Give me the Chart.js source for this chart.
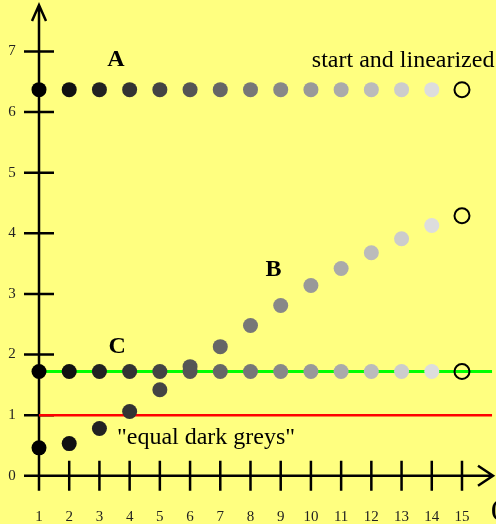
<!DOCTYPE html>
<html>
<head>
<meta charset="utf-8">
<script src="https://cdn.jsdelivr.net/npm/chart.js@4/dist/chart.umd.min.js"></script>
<style>
  html, body { margin: 0; padding: 0; background: #ffff80; overflow: hidden; }
  #wrap { width: 496px; height: 524px; }
</style>
</head>
<body>
<div id="wrap"><canvas id="chart"></canvas></div>
<script>
// data
const xValues = [1, 2, 3, 4, 5, 6, 7, 8, 9, 10, 11, 12, 13, 14, 15];
const seriesA = [6.37, 6.37, 6.37, 6.37, 6.37, 6.37, 6.37, 6.37, 6.37, 6.37, 6.37, 6.37, 6.37, 6.37, 6.37];
const seriesB = [0.46, 0.53, 0.78, 1.06, 1.42, 1.8, 2.13, 2.48, 2.81, 3.14, 3.42, 3.68, 3.91, 4.13, 4.29];
const seriesC = [1.72, 1.72, 1.72, 1.72, 1.72, 1.72, 1.72, 1.72, 1.72, 1.72, 1.72, 1.72, 1.72, 1.72, 1.72];
const greys = ["#000000", "#111111", "#222222", "#333333", "#444444", "#555555", "#666666",
  "#777777", "#888888", "#999999", "#aaaaaa", "#bbbbbb", "#cccccc", "#dddddd", "rgba(0,0,0,0)"];
const greenLevel = 1.72;
const redLevel = 1.0;
const yTicks = [0, 1, 2, 3, 4, 5, 6, 7];
const xTicks = [1, 2, 3, 4, 5, 6, 7, 8, 9, 10, 11, 12, 13, 14, 15];
const labels = [
  { text: "A", x: 3.26, y: 6.86, bold: true },
  { text: "B", x: 8.5, y: 3.39, bold: true },
  { text: "C", x: 3.3, y: 2.13, bold: true },
  { text: "start and linearized", x: 10.03, y: 6.85, bold: false },
  { text: "\"equal dark greys\"", x: 3.58, y: 0.62, bold: false },
];

const pts = (ys) => xValues.map((x, i) => ({ x: x, y: ys[i] }));
const edges = (b) => b.map((x, i) => (i === b.length - 1 ? "#000" : "rgba(0,0,0,0)"));

const axesPlugin = {
  id: "axesPlugin",
  beforeDatasetsDraw(chart) {
    const { ctx, scales } = chart;
    const sx = scales.x, sy = scales.y;
    const x0 = sx.getPixelForValue(1);
    const y0 = sy.getPixelForValue(0);
    ctx.save();
    ctx.strokeStyle = "#000";
    ctx.lineWidth = 2.5;
    ctx.beginPath();
    // y axis
    ctx.moveTo(x0, 490);
    ctx.lineTo(x0, 5);
    ctx.moveTo(x0 - 7, 21);
    ctx.lineTo(x0, 5);
    ctx.lineTo(x0 + 7, 21);
    // x axis
    ctx.moveTo(24, y0);
    ctx.lineTo(493, y0);
    ctx.moveTo(478, y0 - 10);
    ctx.lineTo(493, y0);
    ctx.lineTo(478, y0 + 10);
    yTicks.forEach((v) => {
      const p = sy.getPixelForValue(v);
      ctx.moveTo(24, p);
      ctx.lineTo(54, p);
    });
    xTicks.forEach((v) => {
      const p = sx.getPixelForValue(v);
      ctx.moveTo(p, y0 - 15);
      ctx.lineTo(p, y0 + 15);
    });
    ctx.stroke();

    ctx.fillStyle = "#222";
    ctx.font = "15px 'Liberation Serif', serif";
    ctx.textAlign = "center";
    ctx.textBaseline = "middle";
    yTicks.forEach((v) => ctx.fillText(String(v), 12, sy.getPixelForValue(v)));
    xTicks.forEach((v) => ctx.fillText(String(v), sx.getPixelForValue(v), 517));
    ctx.restore();
  },
  afterDatasetsDraw(chart) {
    const { ctx, scales } = chart;
    ctx.save();
    ctx.fillStyle = "#000";
    ctx.textAlign = "left";
    ctx.textBaseline = "middle";
    labels.forEach((l) => {
      ctx.font = (l.bold ? "bold 24px" : "24px") + " 'Liberation Serif', serif";
      ctx.fillText(l.text, scales.x.getPixelForValue(l.x), scales.y.getPixelForValue(l.y));
    });
    ctx.font = "bold 24px 'Liberation Serif', serif";
    ctx.fillText("(", 491, 510);
    ctx.restore();
  },
};

const pointSet = (ys) => ({
  type: "scatter",
  data: pts(ys),
  pointRadius: 7.5,
  pointHoverRadius: 7.5,
  pointBackgroundColor: greys,
  pointBorderColor: edges(greys),
  pointBorderWidth: 2,
  showLine: false,
  clip: false,
  order: 1,
});

const hLine = (level, color, width) => ({
  type: "line",
  data: [{ x: 1, y: level }, { x: 16, y: level }],
  borderColor: color,
  borderWidth: width,
  pointRadius: 0,
  fill: false,
  order: 2,
});

new Chart(document.getElementById("chart"), {
  type: "scatter",
  data: {
    datasets: [
      hLine(greenLevel, "#00ff00", 3),
      hLine(redLevel, "#ff0000", 2.5),
      pointSet(seriesA),
      pointSet(seriesC),
      pointSet(seriesB),
    ],
  },
  options: {
    responsive: true,
    maintainAspectRatio: false,
    animation: false,
    layout: { autoPadding: false, padding: { left: 8.79, right: 3.8, top: 3.0, bottom: 2.8 } },
    plugins: { legend: { display: false }, tooltip: { enabled: false } },
    scales: {
      x: { type: "linear", min: 0, max: 16, display: false },
      y: { type: "linear", min: -0.75, max: 7.8, display: false },
    },
  },
  plugins: [axesPlugin],
});
</script>
</body>
</html>
